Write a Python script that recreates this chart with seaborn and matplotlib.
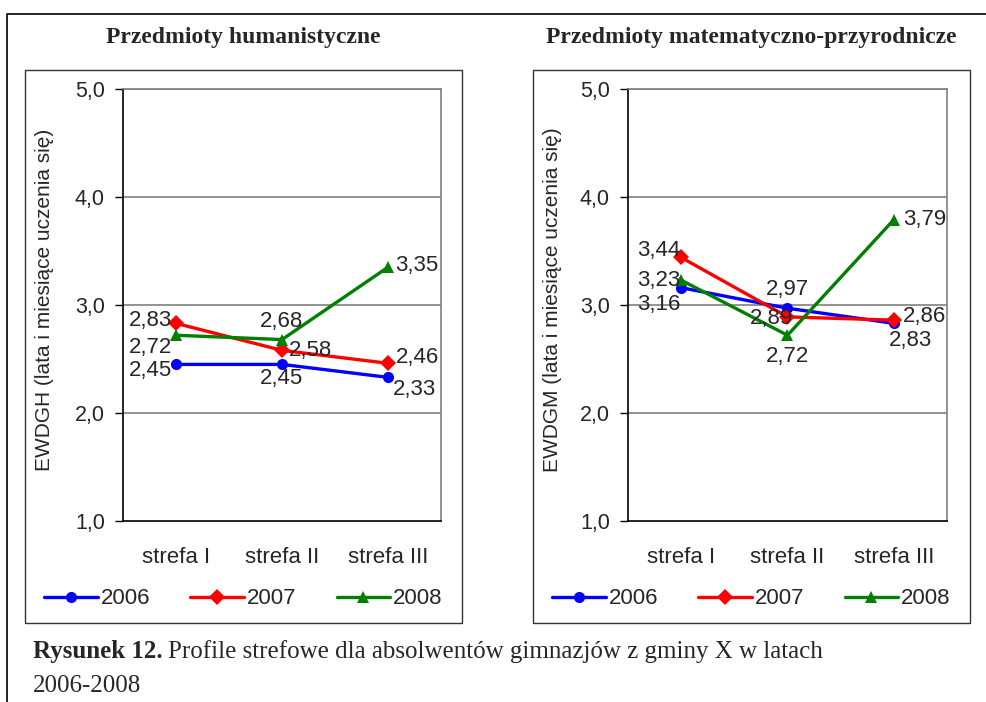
import pandas as pd
import seaborn as sns
import matplotlib.pyplot as plt
from matplotlib.lines import Line2D
from matplotlib.patches import Rectangle

strefy = ["strefa I", "strefa II", "strefa III"]
lata = ["2006", "2007", "2008"]

# Przedmioty humanistyczne
hum_2006 = [2.45, 2.45, 2.33]
hum_2007 = [2.83, 2.58, 2.46]
hum_2008 = [2.72, 2.68, 3.35]

# Przedmioty matematyczno-przyrodnicze
mat_2006 = [3.16, 2.97, 2.83]
mat_2007 = [3.44, 2.89, 2.86]
mat_2008 = [3.23, 2.72, 3.79]

y_ticks = [1.0, 2.0, 3.0, 4.0, 5.0]

colors = {"2006": "#0000FF", "2007": "#FF0000", "2008": "#008000"}
markers = {"2006": "o", "2007": "D", "2008": "^"}

# label offsets in pixels (dx, dy, ha) per year, per zone
hum_offsets = {
    "2006": [(-4, -6, "right"), (0, -14, "center"), (5, -12, "left")],
    "2007": [(-4, 3, "right"), (7, 0, "left"), (8, 6, "left")],
    "2008": [(-4, -12, "right"), (0, 18, "center"), (7, 2, "left")],
}
mat_offsets = {
    "2006": [(-1, -17, "right"), (0, 19, "center"), (-5, -17, "left")],
    "2007": [(-1, 7, "right"), (6, -2, "right"), (9, 4, "left")],
    "2008": [(-1, 0, "right"), (0, -21, "center"), (9, 0, "left")],
}


def make_df(v06, v07, v08):
    rows = []
    for rok, vals in zip(lata, [v06, v07, v08]):
        for i, (s, v) in enumerate(zip(strefy, vals)):
            rows.append({"strefa": s, "x": i, "rok": rok, "wynik": v})
    return pd.DataFrame(rows)


df_hum = make_df(hum_2006, hum_2007, hum_2008)
df_mat = make_df(mat_2006, mat_2007, mat_2008)

sns.set_style("white")
plt.rcParams["font.family"] = ["Liberation Sans", "DejaVu Sans"]

W, H = 987, 702
fig = plt.figure(figsize=(W / 100, H / 100), dpi=100)


def px_axes(x0, y0, x1, y1):
    return fig.add_axes([x0 / W, 1 - y1 / H, (x1 - x0) / W, (y1 - y0) / H])


def fig_line(xs, ys, **kw):
    fig.add_artist(Line2D([x / W for x in xs], [1 - y / H for y in ys],
                          transform=fig.transFigure, **kw))


# outer frame of the page
fig_line([7, 7, 987], [702, 14, 14], color="black", lw=1.2)

panels = [
    (df_hum, hum_offsets, (123, 441), (25, 462), "Przedmioty humanistyczne",
     "EWDGH (lata i miesiące uczenia się)"),
    (df_mat, mat_offsets, (628, 947), (533, 970), "Przedmioty matematyczno-przyrodnicze",
     "EWDGM (lata i miesiące uczenia się)"),
]

for df, offsets, (ax0, ax1), (bx0, bx1), title, ylabel in panels:
    # chart box
    fig.add_artist(Rectangle((bx0 / W, 1 - 623 / H), (bx1 - bx0) / W, (623 - 70) / H,
                             transform=fig.transFigure, fill=False,
                             edgecolor="#333333", lw=1.0))
    fig.text((bx0 + bx1) / 2 / W, 1 - 43 / H, title, ha="center", va="baseline",
             fontsize=17, fontweight="bold", family="Liberation Serif")

    ax = px_axes(ax0, 89, ax1, 521)
    sns.lineplot(data=df, x="x", y="wynik", hue="rok", style="rok",
                 palette=colors, markers=markers, dashes=False,
                 markersize=8, linewidth=2.4, markeredgewidth=0,
                 ax=ax, legend=True)

    ax.set_xlim(-0.5, 2.5)
    ax.set_ylim(1.0, 5.0)
    ax.set_yticks(y_ticks)
    ax.set_yticklabels([f"{t:.1f}".replace(".", ",") for t in y_ticks], fontsize=15.5)
    ax.set_xticks(range(len(strefy)))
    ax.set_xticklabels(strefy, fontsize=16)
    ax.set_xticks([-0.5, 0.5, 1.5, 2.5], minor=True)
    ax.tick_params(axis="x", which="major", length=0, pad=19)
    ax.tick_params(axis="x", which="minor", length=5, direction="out", width=1, color="black")
    ax.tick_params(axis="y", length=6, direction="out", width=1, color="black", pad=7,
                   left=True)
    for t in y_ticks[1:]:
        ax.axhline(t, color="#808080", lw=1.2, zorder=0)
    for side in ["left", "bottom"]:
        ax.spines[side].set_color("black")
        ax.spines[side].set_linewidth(1.2)
    for side in ["top", "right"]:
        ax.spines[side].set_color("#808080")
        ax.spines[side].set_linewidth(1.2)
    ax.set_xlabel("")
    ax.set_ylabel("")
    fig.text((bx0 + 20) / W, 1 - 300 / H, ylabel, rotation=90, ha="center",
             va="center", fontsize=15)

    # value labels
    for rok in lata:
        sub = df[df["rok"] == rok]
        for (_, row), (dx, dy, ha) in zip(sub.iterrows(), offsets[rok]):
            ax.annotate(f"{row['wynik']:.2f}".replace(".", ","),
                        (row["x"], row["wynik"]), xytext=(dx * 0.72, dy * 0.72),
                        textcoords="offset points", ha=ha, va="center",
                        fontsize=16, annotation_clip=False)

    sns.move_legend(ax, "center", bbox_to_anchor=((bx0 + bx1) / 2 / W, 1 - 599 / H),
                    bbox_transform=fig.transFigure, ncol=3, frameon=False, title=None,
                    fontsize=16, handlelength=2.4, handletextpad=0.15,
                    columnspacing=1.8)

cap1 = fig.text(33 / W, 1 - 658 / H, "Rysunek 12.", ha="left", va="baseline",
                fontsize=18, fontweight="bold", family="Liberation Serif")
fig.canvas.draw()
bb = cap1.get_window_extent()
fig.text((bb.x1 + 5) / W, 1 - 658 / H,
         "Profile strefowe dla absolwentów gimnazjów z gminy X w latach",
         ha="left", va="baseline", fontsize=18, family="Liberation Serif")
fig.text(33 / W, 1 - 692 / H, "2006-2008", ha="left", va="baseline",
         fontsize=18, family="Liberation Serif")

fig.savefig("out.png", dpi=100)
